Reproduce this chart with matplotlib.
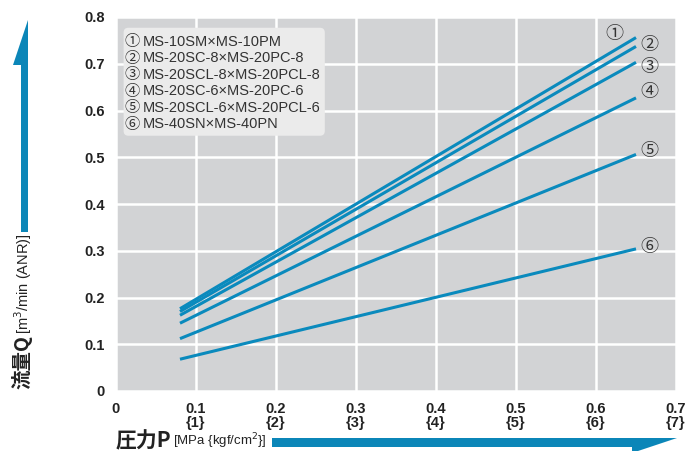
import matplotlib
matplotlib.use('Agg')
import matplotlib.pyplot as plt
from matplotlib.patches import Polygon, FancyBboxPatch
from matplotlib import font_manager

# data
pressure = [0.08, 0.65]
flow_1 = [0.176, 0.756]
flow_2 = [0.170, 0.737]
flow_3 = [0.162, 0.703]
flow_4 = [0.145, 0.627]
flow_5 = [0.112, 0.506]
flow_6 = [0.068, 0.304]
series = [flow_1, flow_2, flow_3, flow_4, flow_5, flow_6]
marks = ['①', '②', '③', '④', '⑤', '⑥']
names = ['MS-10SM×MS-10PM', 'MS-20SC-8×MS-20PC-8', 'MS-20SCL-8×MS-20PCL-8',
         'MS-20SC-6×MS-20PC-6', 'MS-20SCL-6×MS-20PCL-6', 'MS-40SN×MS-40PN']
xticks = [0, 0.1, 0.2, 0.3, 0.4, 0.5, 0.6, 0.7]
xlabels = ['0', '0.1\n{1}', '0.2\n{2}', '0.3\n{3}', '0.4\n{4}', '0.5\n{5}', '0.6\n{6}', '0.7\n{7}']
yticks = [0, 0.1, 0.2, 0.3, 0.4, 0.5, 0.6, 0.7, 0.8]
ylabels = ['0', '0.1', '0.2', '0.3', '0.4', '0.5', '0.6', '0.7', '0.8']
# label spots for the circled numbers (x, y in data units)
mark_pos = [(0.6225, 0.764), (0.667, 0.740), (0.667, 0.693),
            (0.667, 0.640), (0.667, 0.513), (0.667, 0.309)]

names_installed = {f.name for f in font_manager.fontManager.ttflist}
narrow = 'Liberation Sans Narrow' if 'Liberation Sans Narrow' in names_installed else 'Liberation Sans'
cjk = 'Noto Sans CJK JP'

line_col = '#0a8abd'
arrow_col = '#0b86b8'
txt_col = '#222222'

W, H = 689, 451
fig = plt.figure(figsize=(W / 100, H / 100), dpi=100)
ax = fig.add_axes([116 / W, 1 - 391 / H, 560 / W, 374 / H])
ax.set_facecolor('#d2d3d5')
for s in ax.spines.values():
    s.set_visible(False)
ax.set_xlim(0, 0.7)
ax.set_ylim(0, 0.8)
ax.set_xticks(xticks)
ax.set_yticks(yticks)
ax.set_xticklabels(xlabels, fontfamily=narrow, fontweight='bold', fontsize=10.5,
                   color=txt_col, linespacing=0.95)
ax.set_yticklabels(ylabels, fontfamily=narrow, fontweight='bold', fontsize=10.5,
                   color=txt_col)
ax.tick_params(length=0, pad=8)
ax.grid(True, color='white', lw=1.8)
ax.set_axisbelow(True)

for vals in series:
    ax.plot(pressure, vals, color=line_col, lw=2.2, solid_capstyle='butt', zorder=3)

for m, (px, py) in zip(marks, mark_pos):
    ax.text(px, py, m, fontsize=13, color='#333333', ha='center', va='center',
            family=[cjk])

# legend box
box = FancyBboxPatch((0.0095, 0.546), 0.2515, 0.231,
                     boxstyle='round,pad=0,rounding_size=0.006',
                     mutation_aspect=0.8 / 0.7 * 560 / 374,
                     fc='#ebebeb', ec='none', zorder=4)
ax.add_patch(box)
for i, (m, n) in enumerate(zip(marks, names)):
    yy = 0.7474 - i * 0.0354
    ax.text(0.0205, yy, m, fontsize=11, color='#333333', ha='center', va='center',
            family=[cjk], zorder=5)
    ax.text(0.0335, yy, n, fontsize=10.5, color='#333333', ha='left', va='center',
            family=[narrow], zorder=5)


def fx(x):
    return x / W


def fy(y):
    return 1 - y / H


# y axis title with arrow
fig.text(fx(22), fy(389), '流量Q', rotation=90, ha='center', va='bottom',
         fontsize=14, fontweight='bold', family=[cjk], color=txt_col)
fig.text(fx(23), fy(334), '[m$^3$/min (ANR)]', rotation=90, ha='center', va='bottom',
         fontsize=10.5, family=[narrow], color=txt_col)
up = [(21, 232), (21, 65), (13, 65), (28, 20), (28, 232)]
fig.add_artist(Polygon([(fx(a), fy(b)) for a, b in up], closed=True, fc=arrow_col,
                       ec='none', transform=fig.transFigure))

# x axis title with arrow
fig.text(fx(116), fy(441), '圧力P', ha='left', va='center', fontsize=15,
         fontweight='bold', family=[cjk], color=txt_col)
fig.text(fx(173), fy(441), '[MPa {kgf/cm$^2$}]', ha='left', va='center', fontsize=9.5,
         family=[narrow], color=txt_col)
right = [(272, 438), (677, 438), (632, 453), (632, 447), (272, 447)]
fig.add_artist(Polygon([(fx(a), fy(b)) for a, b in right], closed=True, fc=arrow_col,
                       ec='none', transform=fig.transFigure))

fig.savefig('out.png', dpi=100)
